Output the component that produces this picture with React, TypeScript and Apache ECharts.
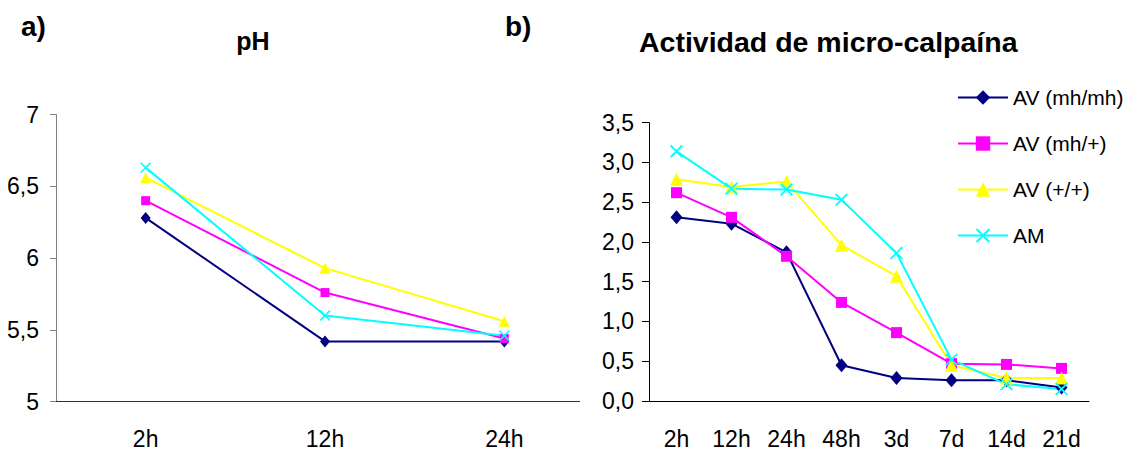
import React, { useEffect, useRef } from "react";
import * as echarts from "echarts";

// ---- data ----
const seriesNames = ["AV (mh/mh)", "AV (mh/+)", "AV (+/+)", "AM"];

const categoriesA = ["2h", "12h", "24h"];
const phMhMh = [6.28, 5.42, 5.42];
const phMhPlus = [6.4, 5.76, 5.44];
const phPlusPlus = [6.56, 5.93, 5.56];
const phAM = [6.63, 5.6, 5.46];
const yTicksA = ["5", "5,5", "6", "6,5", "7"];

const categoriesB = ["2h", "12h", "24h", "48h", "3d", "7d", "14d", "21d"];
const calpMhMh = [2.31, 2.23, 1.87, 0.45, 0.29, 0.26, 0.26, 0.17];
const calpMhPlus = [2.62, 2.31, 1.82, 1.24, 0.86, 0.47, 0.46, 0.41];
const calpPlusPlus = [2.79, 2.69, 2.76, 1.96, 1.57, 0.45, 0.29, 0.29];
const calpAM = [3.14, 2.67, 2.66, 2.53, 1.86, 0.52, 0.21, 0.15];
const yTicksB = ["0,0", "0,5", "1,0", "1,5", "2,0", "2,5", "3,0", "3,5"];

const titleA = "pH";
const titleB = "Actividad de micro-calpaína";

// ---- styles ----
const colors = ["#000080", "#FF00FF", "#FFFF00", "#00FFFF"];
const crossPath =
  "path://M0,1L1,0L5,4L9,0L10,1L6,5L10,9L9,10L5,6L1,10L0,9L4,5Z";
const symbols = ["diamond", "rect", "triangle", crossPath];
const symbolSizesA: any[] = [[10, 12], 9, 11, 11];
const symbolSizesB: any[] = [[12, 14], 11, 13, 13];
const regular = "'Liberation Sans', Arial, sans-serif";

function mk(name: string, data: number[], i: number, grid: number) {
  return {
    type: "line",
    name,
    data,
    xAxisIndex: grid,
    yAxisIndex: grid,
    symbol: symbols[i],
    symbolSize: grid === 0 ? symbolSizesA[i] : symbolSizesB[i],
    showSymbol: true,
    lineStyle: { color: colors[i], width: 2 },
    itemStyle: { color: colors[i], borderWidth: 0 },
    emphasis: { disabled: true },
  };
}

export default function App() {
  const ref = useRef<HTMLDivElement>(null);
  useEffect(() => {
    document.body.style.margin = "0";
    const chart = echarts.init(ref.current!, null, { renderer: "svg" });
    const labelA = {
      color: "#000",
      fontFamily: regular,
      fontSize: 23,
    };
    chart.setOption({
      animation: false,
      backgroundColor: "#fff",
      grid: [
        { left: 56, top: 114.5, width: 538, height: 287.2 },
        { left: 649, top: 122.7, width: 440, height: 278.3 },
      ],
      legend: {
        orient: "vertical",
        left: 952,
        top: 82,
        itemWidth: 50,
        itemHeight: 18,
        itemGap: 25,
        data: seriesNames,
        textStyle: { color: "#000", fontFamily: regular, fontSize: 21 },
        selectedMode: false,
      },
      xAxis: [
        {
          type: "category",
          gridIndex: 0,
          data: categoriesA,
          boundaryGap: true,
          axisLine: { lineStyle: { color: "#333", width: 1 } },
          axisTick: { length: 8, lineStyle: { color: "#333" } },
          axisLabel: { ...labelA, margin: 26 },
        },
        {
          type: "category",
          gridIndex: 1,
          data: categoriesB,
          boundaryGap: true,
          axisLine: { lineStyle: { color: "#000", width: 1 } },
          axisTick: { length: 8, lineStyle: { color: "#000" } },
          axisLabel: { ...labelA, margin: 26 },
        },
      ],
      yAxis: [
        {
          type: "value",
          gridIndex: 0,
          min: 5,
          max: 7,
          interval: 0.5,
          axisLine: { show: true, lineStyle: { color: "#808080", width: 1 } },
          axisTick: { show: true, length: 6, lineStyle: { color: "#808080" } },
          splitLine: { show: false },
          axisLabel: {
            ...labelA,
            margin: 17,
            formatter: (v: number) => yTicksA[Math.round((v - 5) / 0.5)],
          },
        },
        {
          type: "value",
          gridIndex: 1,
          min: 0,
          max: 3.5,
          interval: 0.5,
          axisLine: { show: true, lineStyle: { color: "#000", width: 1 } },
          axisTick: { show: true, length: 7, lineStyle: { color: "#000" } },
          splitLine: { show: false },
          axisLabel: {
            ...labelA,
            margin: 15,
            formatter: (v: number) => yTicksB[Math.round(v / 0.5)],
          },
        },
      ],
      series: [
        mk(seriesNames[0], calpMhMh, 0, 1),
        mk(seriesNames[1], calpMhPlus, 1, 1),
        mk(seriesNames[2], calpPlusPlus, 2, 1),
        mk(seriesNames[3], calpAM, 3, 1),
        mk(seriesNames[0], phMhMh, 0, 0),
        mk(seriesNames[1], phMhPlus, 1, 0),
        mk(seriesNames[2], phPlusPlus, 2, 0),
        mk(seriesNames[3], phAM, 3, 0),
      ],
      graphic: [
        {
          type: "rect",
          z: 100,
          shape: { x: 580, y: 394, width: 22, height: 18 },
          style: { fill: "#fff" },
        },
        {
          type: "text",
          x: 21,
          y: 26,
          style: {
            text: "a)",
            font: `bold 28px ${regular}`,
            fill: "#000",
            textAlign: "left",
            textVerticalAlign: "middle",
          },
        },
        {
          type: "text",
          x: 505,
          y: 26,
          style: {
            text: "b)",
            font: `bold 28px ${regular}`,
            fill: "#000",
            textAlign: "left",
            textVerticalAlign: "middle",
          },
        },
        {
          type: "text",
          x: 253,
          y: 41,
          style: {
            text: titleA,
            font: `bold 25px ${regular}`,
            fill: "#000",
            textAlign: "center",
            textVerticalAlign: "middle",
          },
        },
        {
          type: "text",
          x: 639,
          y: 41.5,
          style: {
            text: titleB,
            font: `bold 28.5px ${regular}`,
            fill: "#000",
            textAlign: "left",
            textVerticalAlign: "middle",
          },
        },
      ],
    });
    return () => chart.dispose();
  }, []);
  return <div ref={ref} style={{ width: 1125, height: 452 }} />;
}
